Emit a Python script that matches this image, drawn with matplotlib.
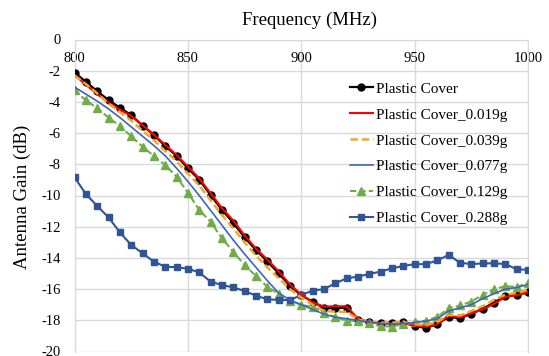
import numpy as np
import matplotlib
matplotlib.use('Agg')
import matplotlib.pyplot as plt
from matplotlib.ticker import FuncFormatter

FREQ = list(range(800, 1001, 5))

PC = [-2.13, -2.70, -3.32, -3.88, -4.37, -4.84, -5.52, -6.12, -6.83, -7.45,
      -8.26, -8.98, -9.97, -10.92, -11.74, -12.69, -13.49, -14.22, -14.99, -15.78,
      -16.40, -16.80, -17.21, -17.23, -17.18, -17.95, -18.14, -18.16, -18.17, -18.12,
      -18.38, -18.48, -18.25, -17.77, -17.88, -17.57, -17.27, -16.86, -16.44, -16.38, -16.20]
PC_019 = [-2.28, -2.90, -3.50, -4.05, -4.50, -4.90, -5.50, -6.10, -6.75, -7.40,
          -8.15, -8.90, -9.85, -10.80, -11.60, -12.55, -13.40, -14.10, -14.85, -15.70,
          -16.35, -16.85, -17.12, -17.10, -17.10, -17.90, -18.10, -18.20, -18.20, -18.15,
          -18.35, -18.42, -18.25, -17.72, -17.82, -17.55, -17.30, -16.95, -16.50, -16.40, -16.20]
PC_039 = [-2.30, -2.85, -3.45, -4.10, -4.65, -5.20, -5.85, -6.45, -7.15, -7.80,
          -8.60, -9.35, -10.30, -11.25, -12.10, -13.00, -13.85, -14.60, -15.30, -16.00,
          -16.55, -17.00, -17.40, -17.45, -17.45, -17.95, -18.10, -18.15, -18.15, -18.10,
          -18.25, -18.30, -18.10, -17.65, -17.70, -17.40, -17.10, -16.70, -16.35, -16.25, -16.05]
PC_077 = [-3.05, -3.50, -3.95, -4.45, -5.00, -5.60, -6.20, -6.80, -7.45, -8.25,
          -9.10, -10.00, -10.95, -11.90, -12.85, -13.75, -14.60, -15.45, -16.25, -16.70,
          -17.00, -17.30, -17.60, -17.80, -17.90, -18.00, -18.10, -18.20, -18.25, -18.20,
          -18.15, -18.05, -17.90, -17.40, -17.20, -17.00, -16.60, -16.30, -16.00, -15.90, -15.70]
PC_129 = [-3.25, -3.90, -4.40, -5.00, -5.55, -6.20, -6.87, -7.47, -8.05, -8.80,
          -9.82, -10.93, -11.68, -12.74, -13.60, -14.46, -15.16, -15.85, -16.30, -16.75,
          -17.00, -17.15, -17.50, -17.80, -18.02, -18.05, -18.20, -18.38, -18.40, -18.24,
          -18.10, -18.03, -17.77, -17.23, -17.05, -16.80, -16.37, -16.00, -15.82, -15.85, -15.63]
PC_288 = [-8.83, -9.90, -10.67, -11.40, -12.36, -13.17, -13.70, -14.24, -14.56, -14.60,
          -14.69, -14.93, -15.52, -15.74, -15.89, -16.12, -16.42, -16.65, -16.70, -16.70,
          -16.38, -16.10, -16.00, -15.63, -15.31, -15.20, -15.03, -14.88, -14.67, -14.52,
          -14.40, -14.40, -14.16, -13.81, -14.31, -14.40, -14.35, -14.35, -14.39, -14.73, -14.76]

LABELS = ['Plastic Cover', 'Plastic Cover_0.019g', 'Plastic Cover_0.039g',
          'Plastic Cover_0.077g', 'Plastic Cover_0.129g', 'Plastic Cover_0.288g']

plt.rcParams['font.family'] = ['Liberation Serif', 'DejaVu Serif']

fig = plt.figure(figsize=(5.49, 3.56), dpi=100)
ax = fig.add_axes([74.5 / 549, 1 - 351.5 / 356, (528 - 74.5) / 549, (351.5 - 39.5) / 356])

ax.plot(FREQ, PC, color='black', lw=1.6, marker='o', ms=5, label=LABELS[0], zorder=3)
ax.plot(FREQ, PC_019, color='#FF0000', lw=1.5, label=LABELS[1], zorder=4)
ax.plot(FREQ, PC_039, color='#F5A623', lw=1.8, ls=(0, (3, 1.5)), label=LABELS[2], zorder=4)
ax.plot(FREQ, PC_077, color='#3C64C0', lw=1.2, label=LABELS[3], zorder=4)
ax.plot(FREQ, PC_129, color='#70AD47', lw=1.5, ls=(0, (3, 1.5)), marker='^', ms=5.5,
        label=LABELS[4], zorder=3)
ax.plot(FREQ, PC_288, color='#2F5597', lw=1.5, marker='s', ms=5, label=LABELS[5], zorder=3)

ax.set_xlim(800, 1000)
ax.set_ylim(-20, 0)
ax.set_xticks([800, 850, 900, 950, 1000])
ax.set_yticks(range(-20, 1, 2))
ax.yaxis.set_major_formatter(FuncFormatter(lambda v, p: '%d' % v))
ax.grid(True, color='#D9D9D9', lw=1)
ax.set_axisbelow(True)
for s in ax.spines.values():
    s.set_color('#D9D9D9')
ax.spines['bottom'].set_visible(False)

ax.xaxis.tick_top()
ax.tick_params(axis='x', length=0, pad=-18, labelsize=10.5)
ax.tick_params(axis='y', length=0, pad=10, labelsize=10.5)

fig.text(310 / 549, 1 - 20 / 356, 'Frequency (MHz)', ha='center', va='center', fontsize=13.5)
fig.text(22 / 549, 1 - 197 / 356, 'Antenna Gain (dB)', ha='center', va='center',
         rotation=90, fontsize=13.5)

ax.legend(loc='upper left', bbox_to_anchor=(350 / 549, 1 - 82 / 356),
          bbox_transform=fig.transFigure, frameon=False, fontsize=11,
          handlelength=1.5, handletextpad=0.2, labelspacing=0.8,
          borderpad=0, borderaxespad=0)

fig.savefig('out.png', dpi=100)
